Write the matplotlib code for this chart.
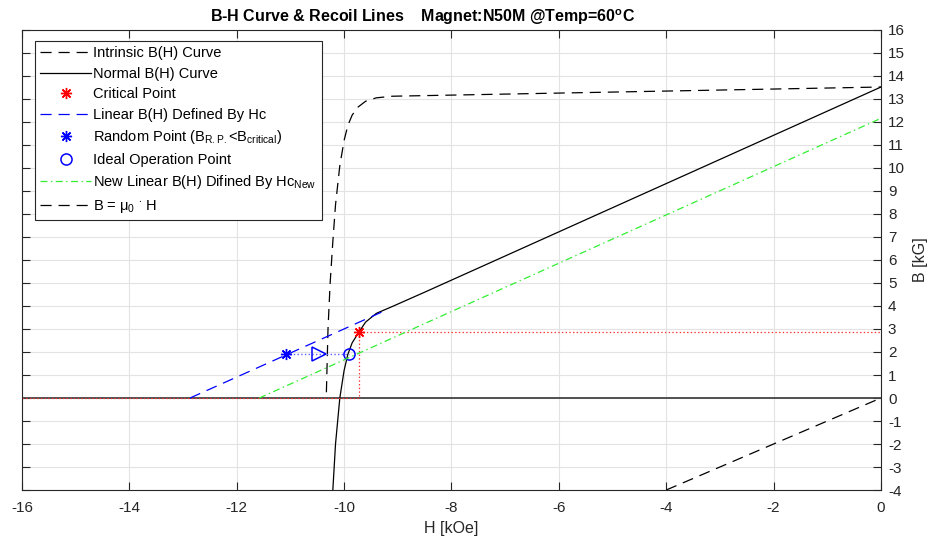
import matplotlib
matplotlib.use("Agg")
import matplotlib.pyplot as plt

plt.rcParams['font.family'] = ['Liberation Sans', 'DejaVu Sans']
plt.rcParams['mathtext.fontset'] = 'custom'
plt.rcParams['mathtext.rm'] = 'Liberation Sans'
plt.rcParams['mathtext.it'] = 'Liberation Sans:italic'
plt.rcParams['mathtext.bf'] = 'Liberation Sans:bold'
plt.rcParams['axes.unicode_minus'] = False
plt.rcParams['lines.scale_dashes'] = False

# intrinsic B(H) curve  (H in kOe, J in kG)
H_intr = [-10.33, -10.30, -10.26, -10.21, -10.16, -10.08, -10.0, -9.93, -9.85, -9.74, -9.6, -9.4, -9.1, 0.0]
B_intr = [0.25, 3.0, 5.0, 6.8, 8.4, 10.1, 11.2, 11.85, 12.3, 12.65, 12.9, 13.05, 13.12, 13.52]

# normal B(H) curve
H_norm = [-10.21, -10.16, -10.08, -10.0, -9.93, -9.85, -9.72, -9.6, -9.4, -9.1, -8.5, 0.0]
B_norm = [-4.0, -2.0, 0.0, 1.2, 1.9, 2.4, 2.88, 3.3, 3.68, 3.98, 4.6, 13.52]

# critical point
H_crit, B_crit = -9.72, 2.88

# linear B(H) defined by Hc
H_lin = [-12.87, -9.21]
B_lin = [0.0, 3.83]

# random point, direction marker, ideal operation point
H_rand, B_rand = -11.08, 1.90
H_arrow = -10.46
H_ideal, B_ideal = -9.915, 1.90

# new linear B(H) defined by Hc_new
H_new = [-11.58, 0.0]
B_new = [0.0, 12.16]

# B = mu0 * H
H_mu = [-4.0, 0.0]
B_mu = [-4.0, 0.0]

xticks = list(range(-16, 1, 2))
yticks = list(range(-4, 17, 1))

fig = plt.figure(figsize=(9.36, 5.45), dpi=100)
ax = fig.add_axes([0.0235, 0.1009, 0.9177, 0.8441])

ax.grid(True, color='#e3e3e3', lw=0.8)
ax.set_axisbelow(True)

ax.axhline(0, color='#444444', lw=1.3, zorder=1)

l1, = ax.plot(H_intr, B_intr, color='k', lw=0.9, dashes=(8, 5), label='Intrinsic B(H) Curve')
l2, = ax.plot(H_norm, B_norm, color='k', lw=0.9, label='Normal B(H) Curve')

# critical point guides
ax.plot([H_crit, 0], [B_crit, B_crit], color='#ff3030', lw=0.9, ls=':')
ax.plot([H_crit, H_crit], [B_crit, 0], color='#ff3030', lw=0.9, ls=':')
ax.plot([-16, H_crit], [0, 0], color='#ff3030', lw=0.9, ls=':')
l3, = ax.plot([H_crit], [B_crit], ls='none', marker=(8, 2, 0), ms=8, mew=1.0,
              color='red', label='Critical Point')

l4, = ax.plot(H_lin, B_lin, color='#0000ff', lw=0.9, dashes=(8, 5),
              label='Linear B(H) Defined By Hc')

ax.plot([H_rand, H_ideal], [B_rand, B_ideal], color='#6060ff', lw=1.0, ls=':')
l5, = ax.plot([H_rand], [B_rand], ls='none', marker=(8, 2, 0), ms=8, mew=1.0,
              color='#0000ff', label=r'Random Point (B$_{\mathrm{R.P.}}$<B$_{\mathrm{critical}}$)')
ax.plot([H_arrow], [B_rand], ls='none', marker='>', ms=10, mew=1.1,
        mfc='none', mec='#0000ff')
l6, = ax.plot([H_ideal], [B_ideal], ls='none', marker='o', ms=8, mew=1.1,
              mfc='none', mec='#0000ff', label='Ideal Operation Point')

l7, = ax.plot(H_new, B_new, color='#33ee33', lw=0.9, dashes=(5, 2.5, 1, 2.5),
              label=r'New Linear B(H) Difined By Hc$_{\mathrm{New}}$')
l8, = ax.plot(H_mu, B_mu, color='k', lw=0.9, dashes=(8, 5),
              label=r'B = μ$_{\mathrm{0}}$ $^{\bullet}$ H')

ax.set_xlim(-16, 0)
ax.set_ylim(-4, 16)
ax.set_xticks(xticks)
ax.set_yticks(yticks)
ax.yaxis.tick_right()
ax.yaxis.set_label_position('right')
ax.tick_params(direction='in', length=6, width=0.8, colors='#262626',
               labelsize=11, top=True, left=True, right=True, bottom=True,
               labelleft=False, labelright=True)
ax.tick_params(axis='y', pad=5)
ax.tick_params(axis='x', pad=8)
for s in ax.spines.values():
    s.set_color('#262626')
    s.set_linewidth(0.8)

ax.set_xlabel('H [kOe]', fontsize=11.5, color='#262626', labelpad=4)
ax.set_ylabel('B [kG]', fontsize=11.5, color='#262626', labelpad=6)
ax.set_title(r'B-H Curve & Recoil Lines    Magnet:N50M @Temp=60$^{\mathbf{o}}$C',
             fontsize=11.5, fontweight='bold', pad=6, x=0.466)

leg = ax.legend(handles=[l1, l2, l3, l4, l5, l6, l7, l8], loc='upper left',
                bbox_to_anchor=(0.0151, 0.976), borderaxespad=0, fontsize=10.5,
                handlelength=3.5, handletextpad=0.15, labelspacing=0.45,
                borderpad=0.35, fancybox=False, framealpha=1, edgecolor='#262626')
leg.get_frame().set_linewidth(0.8)

fig.savefig('out.png', dpi=100)
